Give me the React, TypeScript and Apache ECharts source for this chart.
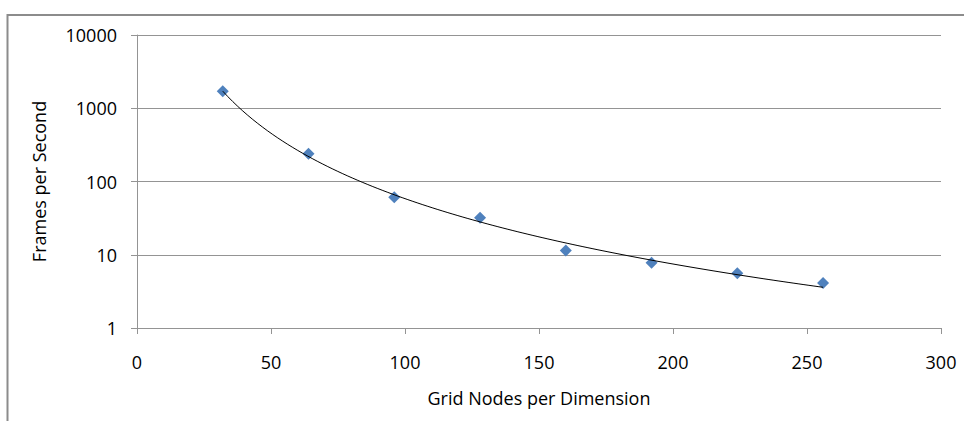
import React, { useEffect, useRef } from "react";
import * as echarts from "echarts";

const gridNodes = [32, 64, 96, 128, 160, 192, 224, 256];
const framesPerSecond = [1700, 240, 61, 32, 11.4, 7.8, 5.6, 4.1];
const xTicks = [0, 50, 100, 150, 200, 250, 300];
const yTicks = [1, 10, 100, 1000, 10000];

// Power trendline (least squares on log-log), as Excel draws it
function powerFit(xs: number[], ys: number[]) {
  const lx = xs.map((v) => Math.log(v));
  const ly = ys.map((v) => Math.log(v));
  const n = xs.length;
  const mx = lx.reduce((a, b) => a + b, 0) / n;
  const my = ly.reduce((a, b) => a + b, 0) / n;
  let sxy = 0;
  let sxx = 0;
  for (let i = 0; i < n; i++) {
    sxy += (lx[i] - mx) * (ly[i] - my);
    sxx += (lx[i] - mx) * (lx[i] - mx);
  }
  const b = sxy / sxx;
  const a = Math.exp(my - b * mx);
  return { a, b };
}

export default function App() {
  const ref = useRef<HTMLDivElement>(null);
  useEffect(() => {
    if (!ref.current) return;
    const chart = echarts.init(ref.current, undefined, { renderer: "svg" });
    const { a, b } = powerFit(gridNodes, framesPerSecond);
    const x0 = gridNodes[0];
    const x1 = gridNodes[gridNodes.length - 1];
    const steps = 120;
    const trend: number[][] = [];
    for (let i = 0; i <= steps; i++) {
      const x = x0 + ((x1 - x0) * i) / steps;
      trend.push([x, a * Math.pow(x, b)]);
    }
    const font = "'Open Sans', sans-serif";
    const gray = "#949494";
    chart.setOption({
      animation: false,
      backgroundColor: "#ffffff",
      graphic: [
        {
          type: "rect",
          shape: { x: 7.5, y: 15, width: 1100, height: 600 },
          style: { fill: "none", stroke: "#8c8c8c", lineWidth: 2 },
          silent: true,
        },
      ],
      grid: { left: 137, right: 23, top: 35, bottom: 93 },
      xAxis: {
        type: "value",
        min: 0,
        max: 300,
        interval: 50,
        name: "Grid Nodes per Dimension",
        nameLocation: "middle",
        nameGap: 61,
        nameTextStyle: { fontFamily: font, fontSize: 18, color: "#000", lineHeight: 18 },
        axisLine: { show: true, lineStyle: { color: gray, width: 1 } },
        axisTick: { show: true, inside: false, length: 6, lineStyle: { color: gray } },
        axisLabel: {
          margin: 25,
          fontFamily: font,
          fontSize: 18,
          color: "#000",
          lineHeight: 18,
          customValues: xTicks,
        },
        splitLine: { show: false },
      },
      yAxis: {
        type: "log",
        logBase: 10,
        min: yTicks[0],
        max: yTicks[yTicks.length - 1],
        name: "Frames per Second",
        nameLocation: "middle",
        nameGap: 89,
        nameRotate: 90,
        nameTextStyle: { fontFamily: font, fontSize: 18, color: "#000", lineHeight: 18 },
        axisLine: { show: true, lineStyle: { color: gray, width: 1 } },
        axisTick: { show: true, inside: false, length: 6, lineStyle: { color: gray } },
        axisLabel: {
          margin: 20,
          fontFamily: font,
          fontSize: 18,
          color: "#000",
          formatter: (v: number) => String(Math.round(v)),
        },
        splitLine: { show: true, lineStyle: { color: gray, width: 1 } },
      },
      series: [
        {
          type: "scatter",
          data: gridNodes.map((x, i) => [x, framesPerSecond[i]]),
          symbol: "diamond",
          symbolSize: 12,
          itemStyle: { color: "#4F81BD", opacity: 1 },
          z: 2,
        },
        {
          type: "line",
          data: trend,
          showSymbol: false,
          smooth: false,
          lineStyle: { color: "#000000", width: 1 },
          z: 3,
        },
      ],
    });
    return () => chart.dispose();
  }, []);
  return (
    <div
      ref={ref}
      style={{ position: "fixed", left: 0, top: 0, width: 964, height: 421 }}
    />
  );
}
